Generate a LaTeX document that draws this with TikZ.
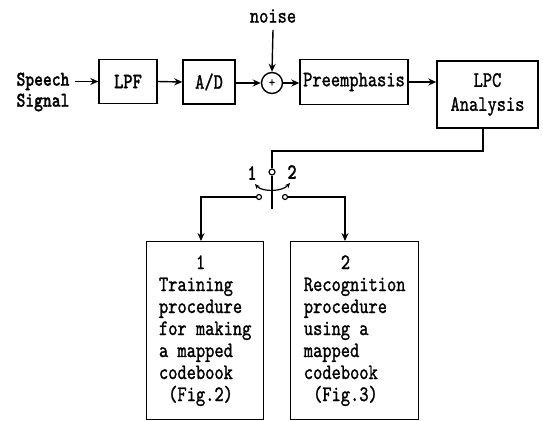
\documentclass[tikz,border=0pt]{standalone}
\usepackage{fontspec}
\setmainfont{lmmono10-regular.otf}[FakeStretch=0.8, FakeBold=1.2, BoldFont=lmmonolt10-bold.otf]
\usetikzlibrary{arrows.meta}
\begin{document}
\begin{tikzpicture}[x=1pt,y=-1pt,
  every node/.style={font=\fontsize{22}{22}\selectfont},
  blk/.style={draw, line width=1.4pt, inner sep=0pt, align=center},
  arr/.style={line width=1.4pt, -{Stealth[length=8pt,width=7pt]}},
  ln/.style={line width=1.4pt},
  lbl/.style={inner sep=0pt}]
\useasboundingbox (0,0) rectangle (543,420);
% top chain
\node[lbl, align=left, font=\fontsize{21}{21}\selectfont\bfseries] (sig) at (43,92) {Speech\\Signal};
\node[blk, minimum width=58, minimum height=44, font=\fontsize{22}{22}\selectfont\bfseries] (lpf) at (128,81.5) {LPF};
\node[blk, minimum width=52, minimum height=44] (ad) at (209,82) {A/D};
\node[draw, circle, line width=1.4pt, minimum size=21, inner sep=0pt, font=\fontsize{14}{14}\selectfont] (sum) at (272,83) {+};
\node[lbl] (noise) at (273,16) {noise};
\node[blk, minimum width=108, minimum height=45] (pre) at (354,82) {Preemphasis};
\node[blk, minimum width=101, minimum height=67, font=\fontsize{22}{24}\selectfont] (lpc) at (487.5,94.5) {LPC\\Analysis};
\draw[arr] ([xshift=5pt]sig.east |- lpf.west) -- (lpf.west);
\draw[arr] (lpf.east) -- (ad.west);
\draw[arr] (ad.east |- sum.west) -- (sum.west);
\draw[arr] (noise.south) ++(0,7) -- (sum.north);
\draw[arr] (sum.east) -- (sum.east -| pre.west);
\draw[arr] (pre.east) -- (pre.east -| lpc.west);
% switch
\node[draw, circle, line width=1.2pt, minimum size=6, inner sep=0pt] (piv) at (272,172) {};
\node[draw, circle, line width=1.2pt, minimum size=5, inner sep=0pt] (c1) at (259,197) {};
\node[draw, circle, line width=1.2pt, minimum size=5, inner sep=0pt] (c2) at (285,197) {};
\coordinate (bend) at (483,151);
\draw[ln] (bend |- lpc.south) -- (bend) -- (piv |- bend) -- (piv.north);
\draw[ln] (piv.south) -- ++(0,33);
\draw[line width=1.2pt, {Stealth[length=5pt,width=4.5pt]}-{Stealth[length=5pt,width=4.5pt]}] (255,184) .. controls (262,192) and (282,192) .. (290,183);
\node[lbl, font=\fontsize{22}{22}\selectfont\bfseries] (n1) at (252,173) {1};
\node[lbl, font=\fontsize{22}{22}\selectfont\bfseries] (n2) at (292,172) {2};
% bottom boxes
\node[blk, align=left, anchor=north west, minimum width=117, minimum height=178] (b1) at (146,241)
  {\hphantom{0000}1\\Training\\procedure\\for making\\a mapped\\codebook\\\hphantom{0}(Fig.2)};
\node[blk, align=left, anchor=north west, minimum width=128, minimum height=178] (b2) at (290,241)
  {\hphantom{0000}2\\Recognition\\procedure\\using a\\mapped\\codebook\\\hphantom{0}(Fig.3)};
\draw[arr] (c1.west) -| (b1.north -| 201,0);
\draw[arr] (c2.east) -| (b2.north -| 345,0);
\end{tikzpicture}
\end{document}
